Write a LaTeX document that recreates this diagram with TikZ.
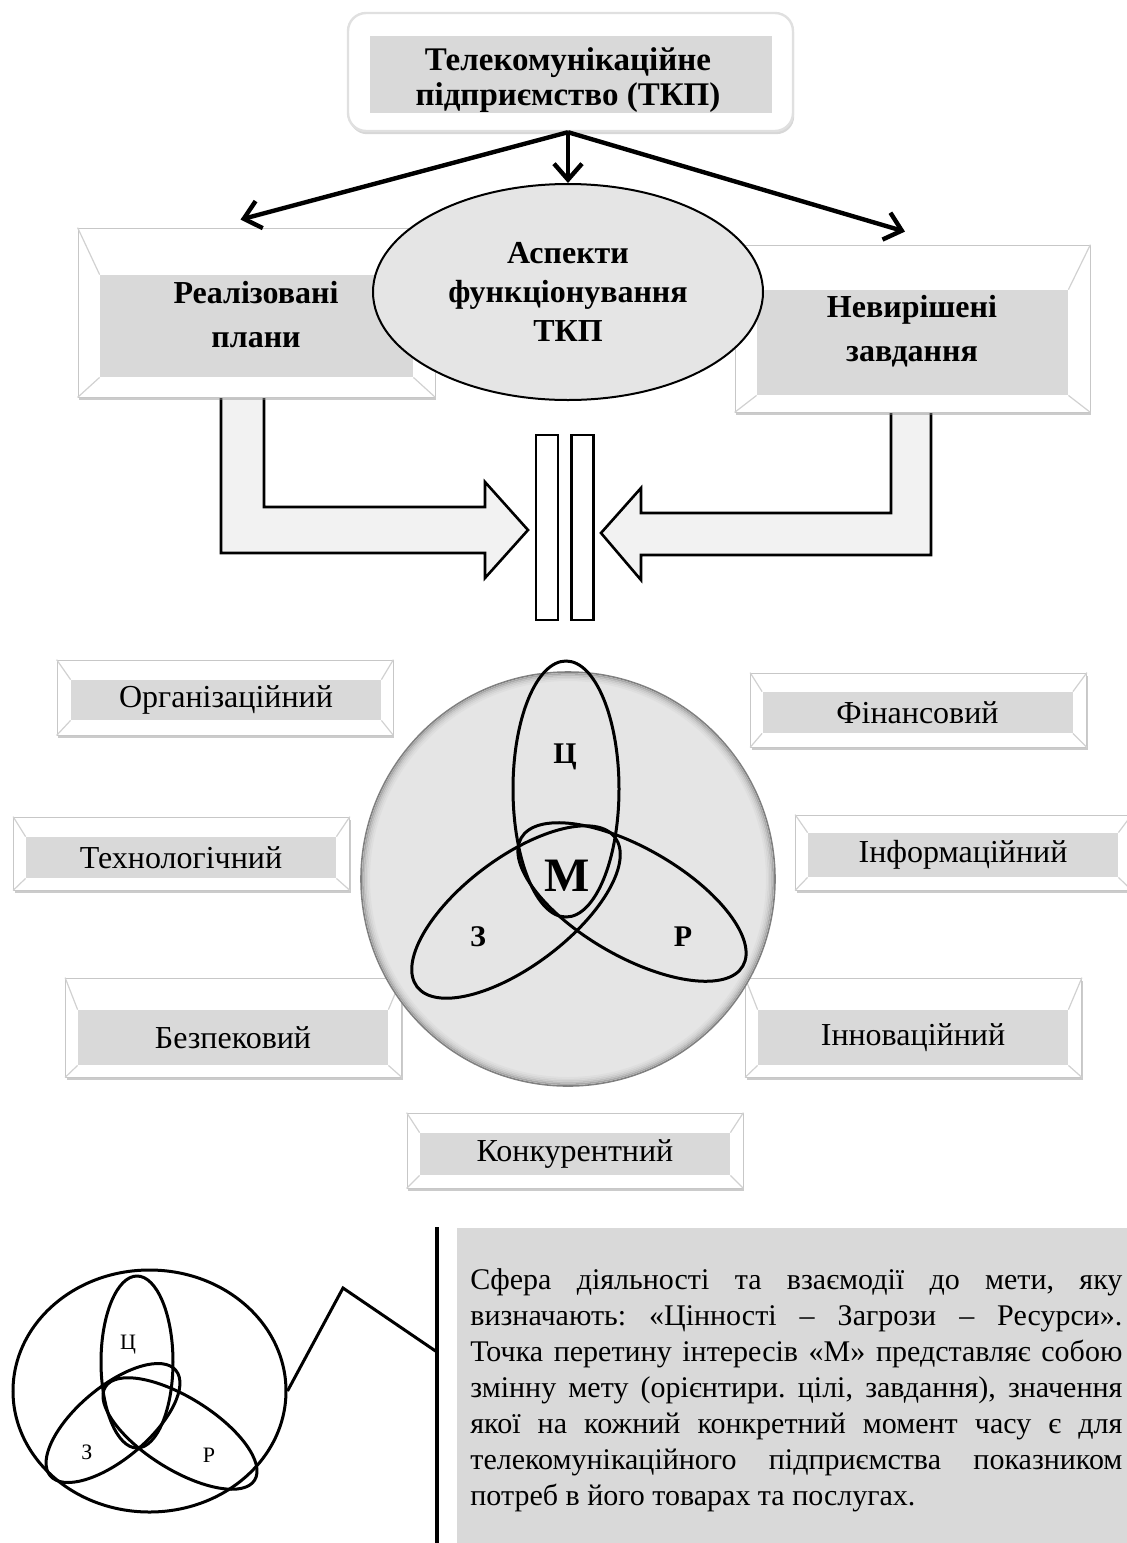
\documentclass[tikz,border=0pt]{standalone}
\usepackage{fontspec}
\setmainfont{Liberation Serif}
\usetikzlibrary{arrows.meta,shapes.geometric,shadows}
\newcommand\jline[1]{\makebox[326pt][s]{#1}}

\begin{document}
\frenchspacing
\begin{tikzpicture}[x=0.5pt, y=-0.5pt,
    boldtext/.style={font=\fontsize{16pt}{22pt}\selectfont\bfseries, align=center},
    bevel/.style={draw=black!22, fill=white, inner sep=0pt,
      drop shadow={shadow xshift=0.6pt, shadow yshift=-1.6pt, opacity=0.45, fill=black!45}},
    face/.style={fill=black!15, inner sep=0pt, font=\fontsize{16pt}{19pt}\selectfont},
    bevline/.style={draw=black!18, line width=0.6pt},
    arr/.style={line width=2.2pt, -{Straight Barb[length=8pt, width=14pt]}},
    block/.style={draw, line width=1.3pt, fill=black!5, line join=miter},
    bar/.style={draw, line width=1.3pt, fill=white, inner sep=0pt, minimum width=11pt, minimum height=92.5pt},
    venn/.style={line width=1.5pt},
    vennlbl/.style={font=\fontsize{15pt}{15pt}\selectfont\bfseries},
    mini/.style={line width=1.5pt},
    minilbl/.style={font=\fontsize{11pt}{11pt}\selectfont},
  ]
  \useasboundingbox (0,0) rectangle (1126,1543);

  \draw[block] (221,380) -- (221,553) -- (485,553) -- (485,578) -- (528,530) -- (485,482) -- (485,507) -- (264,507) -- (264,380);
  \draw[block] (931,395) -- (931,555) -- (641,555) -- (641,580) -- (601,533) -- (641,488) -- (641,513) -- (891,513) -- (891,395);
  \node[bar] (barl) at (547,527.5) {};
  \node[bar] (barr) at (582.5,527.5) {};

  \node[rounded corners=9pt, fill=white, draw=black!12, line width=1.2pt, minimum width=222.5pt, minimum height=59pt,
    drop shadow={shadow xshift=0.6pt, shadow yshift=-1.6pt, opacity=0.35, fill=black!45}] (tkp) at (570.5,72) {};
  \node[face, minimum width=201pt, minimum height=38.5pt] (tkp-f) at (571,74.5) {};
  \node[boldtext, font=\fontsize{16.5pt}{17.5pt}\selectfont\bfseries] (tkp-t) at (568,80) {Телекомунікаційне\\підприємство (ТКП)};

  \node[bevel, minimum width=178.5pt, minimum height=84.5pt] (plans) at (256.5,312.5) {};
  \node[face, minimum width=156.5pt, minimum height=51pt] (plans-f) at (256.5,326) {};
  \node[boldtext] (plans-t) at (256,315) {Реалізовані\\плани};
  \node[bevel, minimum width=177.5pt, minimum height=83.5pt] (tasks) at (912.5,328.5) {};
  \node[face, minimum width=155.5pt, minimum height=52.5pt] (tasks-f) at (912.5,342.5) {};
  \node[boldtext] (tasks-t) at (912,331.5) {Невирішені\\завдання};
  \foreach \n in {plans,tasks}
    \draw[bevline] (\n.north west) -- (\n-f.north west) (\n.south west) -- (\n-f.south west)
      (\n.north east) -- (\n-f.north east) (\n.south east) -- (\n-f.south east);

  \node[draw, ellipse, fill=black!10, line width=1pt, minimum width=195pt, minimum height=108pt, boldtext,
    font=\fontsize{16pt}{19.5pt}\selectfont\bfseries] (aspects) at (568,292) {Аспекти\\функціонування\\ТКП};

  \coordinate (fork) at (tkp.south -| aspects.north);
  \draw[arr] (fork) -- ([xshift=-8pt,yshift=4pt]plans.north);
  \draw[arr] (fork) -- (aspects.north);
  \draw[arr] (fork) -- ([xshift=-3.75pt,yshift=6.5pt]tasks.north);

  \foreach \n/\ox/\oy/\oh/\fx/\fy/\fh/\txt in {
      org/225/697.5/37.5/226/700/20/Організаційний,
      tech/181.5/853.5/36.5/181/857.5/20.5/Технологічний,
      sec/233.5/1027.5/49.5/233/1037.5/27.5/Безпековий,
      fin/918.5/710/37/917.5/712.5/20.5/Фінансовий,
      info/963.5/852.5/37.5/963/855/22/Інформаційний,
      inno/913.5/1027.5/49.5/913/1037.5/27.5/Інноваційний,
      comp/575/1150.5/37.5/575/1154/21/Конкурентний} {
    \node[bevel, minimum width=168pt, minimum height=\oh pt] (\n) at (\ox,\oy) {};
    \node[face, minimum width=155pt, minimum height=\fh pt] (\n-f) at (\fx,\fy) {\txt};
  }
  \foreach \n in {org,tech,sec,fin,info,inno,comp}
    \draw[bevline] (\n.north west) -- (\n-f.north west) (\n.south west) -- (\n-f.south west)
      (\n.north east) -- (\n-f.north east) (\n.south east) -- (\n-f.south east);

  \node[circle, fill=black!10, draw=black!50, line width=0.8pt, minimum size=207pt, inner sep=0pt] (sphere) at (568,879) {};
  \foreach \r/\c in {102.6/34, 101.8/26, 101/20, 100.2/16, 99.4/13}
    \draw[black!\c, line width=0.8pt] (sphere.center) circle (\r pt);
  \draw[venn] (566,789) ellipse [x radius=26.5pt, y radius=64pt];
  \draw[venn, shift={(516,912)}, rotate=37] (0,0) ellipse [x radius=62pt, y radius=27pt];
  \draw[venn, shift={(632,902)}, rotate=-30] (0,0) ellipse [x radius=64pt, y radius=27pt];
  \node[vennlbl] (val) at (565,757) {Ц};
  \node[vennlbl, font=\fontsize{24pt}{24pt}\selectfont\bfseries] (goal) at (567,876) {М};
  \node[vennlbl] (thr) at (478,937) {З};
  \node[vennlbl] (res) at (683,937) {Р};

  \node[draw, ellipse, mini, minimum width=136.5pt, minimum height=121pt, inner sep=0pt] (minisphere) at (149.5,1391) {};
  \draw[mini] (137,1362) ellipse [x radius=18pt, y radius=43pt];
  \draw[mini, shift={(113,1423)}, rotate=40] (0,0) ellipse [x radius=41pt, y radius=18pt];
  \draw[mini, shift={(180,1433.5)}, rotate=-32] (0,0) ellipse [x radius=44pt, y radius=18pt];
  \node[minilbl] (minival) at (128,1345) {Ц};
  \node[minilbl] (minithr) at (87,1452) {З};
  \node[minilbl] (minires) at (209,1455) {Р};

  \node[fill=black!15, minimum width=340pt, minimum height=165pt, anchor=north west, inner sep=0pt] (note) at (457,1228) {};
  \coordinate (rail-top) at (437,1227);
  \coordinate (rail-bot) at (437,1545);
  \coordinate (kink) at (343,1288);
  \coordinate (joint) at (437,1352);
  \draw[line width=1.6pt] (rail-top) -- (rail-bot);
  \draw[mini, line join=miter] (minisphere.east) -- (kink) -- (joint);
  \node[anchor=north west, inner sep=0pt, align=left, font=\fontsize{15pt}{18pt}\selectfont] (note-t) at (470,1268) {%
    \jline{Сфера діяльності та взаємодії до мети, яку}\\
    \jline{визначають: «Цінності – Загрози – Ресурси».}\\
    \jline{Точка перетину інтересів «М» представляє собою}\\
    \jline{змінну мету (орієнтири. цілі, завдання), значення}\\
    \jline{якої на кожний конкретний момент часу є для}\\
    \jline{телекомунікаційного підприємства показником}\\
    потреб в його товарах та послугах.};
\end{tikzpicture}
\end{document}
